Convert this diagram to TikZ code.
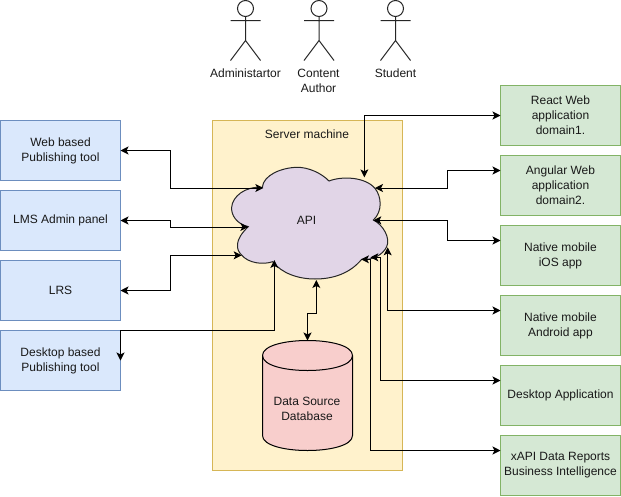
\documentclass[tikz,border=0pt]{standalone}
\usepackage{fontspec}
\setmainfont{Liberation Sans}
\usetikzlibrary{arrows.meta}
\definecolor{bluefill}{HTML}{DAE8FC}\definecolor{bluedraw}{HTML}{6C8EBF}
\definecolor{greenfill}{HTML}{D5E8D4}\definecolor{greendraw}{HTML}{82B366}
\definecolor{yellowfill}{HTML}{FFF2CC}\definecolor{yellowdraw}{HTML}{D6B656}
\definecolor{purplefill}{HTML}{E1D5E7}\definecolor{redfill}{HTML}{F8CECC}
\tikzset{
  basefont/.style={font=\fontsize{12}{15}\selectfont,align=center,inner sep=0pt,outer sep=0pt},
  label text/.style={basefont,text=black!90},
  box/.style={label text,draw,line width=1pt,minimum width=120pt,minimum height=60pt},
  bluebox/.style={box,draw=bluedraw,fill=bluefill},
  greenbox/.style={box,draw=greendraw,fill=greenfill},
  link/.style={draw=black,line width=1pt,{Stealth[length=8pt,width=8pt,inset=2pt]}-{Stealth[length=8pt,width=8pt,inset=2pt]}},
  stick/.style={draw=black!85,line width=1pt},
}
\newcommand{\stickman}[1]{%
  \draw[stick] (#1,8.5) circle[radius=8];
  \draw[stick] (#1,16.5) -- (#1,40.5) (#1-15,20.5) -- (#1+15,20.5)
     (#1-15,60.5) -- (#1,40.5) -- (#1+15,60.5);}
\begin{document}
\begin{tikzpicture}[x=1pt,y=-1pt]
\useasboundingbox (0,0) rectangle (621,496);
% server
\draw[draw=yellowdraw,fill=yellowfill,line width=1pt] (212.5,120.5) rectangle (402.5,470.5);
\node[label text] (server) at (307,134) {Server machine};
% cloud
\begin{scope}[xshift=200pt,yshift=-100pt,x=0.33333pt,y=-0.33333pt]
\draw[draw=black!85,fill=purplefill,line width=1pt]
  (187,262) .. controls (190,225) and (245,203) .. (290,202)
  .. controls (325,201) and (365,220) .. (387,243)
  .. controls (425,228) and (495,230) .. (525,265)
  .. controls (545,290) and (548,335) .. (520,360)
  .. controls (550,375) and (572,415) .. (560,440)
  .. controls (550,462) and (520,482) .. (485,478)
  .. controls (450,520) and (400,537) .. (345,537)
  .. controls (295,537) and (245,520) .. (218,485)
  .. controls (190,495) and (145,490) .. (125,465)
  .. controls (108,450) and (102,420) .. (145,380)
  .. controls (110,372) and (93,345) .. (95,322)
  .. controls (97,290) and (135,258) .. (187,262) -- cycle;
\coordinate (apiweb) at (190,264);
\coordinate (apilms) at (145,381);
\coordinate (apilrs) at (125,466);
\coordinate (apipub) at (223,480);
\coordinate (apidb) at (349,540);
\coordinate (apireact) at (493,232);
\coordinate (apiang) at (525,264);
\coordinate (apiios) at (520,361);
\coordinate (apiand) at (563,442);
\coordinate (apidesk) at (511,472);
\coordinate (apixapi) at (483,478);
\end{scope}
\node[label text] (api) at (306.5,220) {API};
% database
\draw[draw=black,fill=redfill,line width=1pt]
  (262.5,355.5) .. controls (262.5,335.5) and (352.5,335.5) .. (352.5,355.5)
  -- (352.5,435.5) .. controls (352.5,455.5) and (262.5,455.5) .. (262.5,435.5) -- cycle;
\draw[draw=black,line width=1pt]
  (262.5,355.5) .. controls (262.5,375.5) and (352.5,375.5) .. (352.5,355.5);
\coordinate (dbtop) at (307.5,340.5);
\node[label text] (db) at (307,408.5) {Data Source\\Database};
% left boxes
\node[bluebox] (web) at (60.5,150.5) {Web based\\Publishing tool};
\node[bluebox] (lms) at (60.5,220.5) {LMS Admin panel};
\node[bluebox] (lrs) at (60.5,290.5) {LRS};
\node[bluebox] (pub) at (60.5,360.5) {Desktop based\\Publishing tool};
% right boxes
\node[greenbox] (react) at (560.5,115.5) {React Web\\application\\domain1.};
\node[greenbox] (ang) at (560.5,185.5) {Angular Web\\application\\domain2.};
\node[greenbox] (ios) at (560.5,255.5) {Native mobile\\iOS app};
\node[greenbox] (and) at (560.5,325.5) {Native mobile\\Android app};
\node[greenbox] (desk) at (560.5,395.5) {Desktop Application};
\node[greenbox] (xapi) at (560.5,465.5) {xAPI Data Reports\\Business Intelligence};
% actors
\stickman{245.5}
\stickman{319}
\stickman{395.5}
\node[label text] (admin) at (245.5,73.5) {Administartor};
\node[label text] (author) at (318.5,81) {Content\\Author};
\node[label text] (student) at (395.5,73.5) {Student};
% connectors
\draw[link] (web.east) -- ++(50,0) |- (apiweb);
\draw[link] (lms.east) -- ++(50,0) |- (apilms);
\draw[link] (lrs.east) -- ++(50,0) |- (apilrs);
\draw[link] (pub.east) -- (pub.north east) -| (apipub);
\coordinate (dbbend) at (307.5,313.5);
\draw[link] (dbtop) -- (dbbend) -| (apidb);
\draw[link] (react.west) -| (apireact);
\draw[link] ([yshift=15pt]ang.west) -- (447.5,170.5) |- (apiang);
\draw[link] ([yshift=15pt]ios.west) -- (447.5,240.5) |- (apiios);
\draw[link] ([yshift=15pt]and.west) -| (apiand);
\draw[link] ([yshift=15pt]desk.west) -- (380.5,380.5) |- (apidesk);
\draw[link] ([yshift=15pt]xapi.west) -- (370.5,450.5) |- (apixapi);
\end{tikzpicture}
\end{document}
